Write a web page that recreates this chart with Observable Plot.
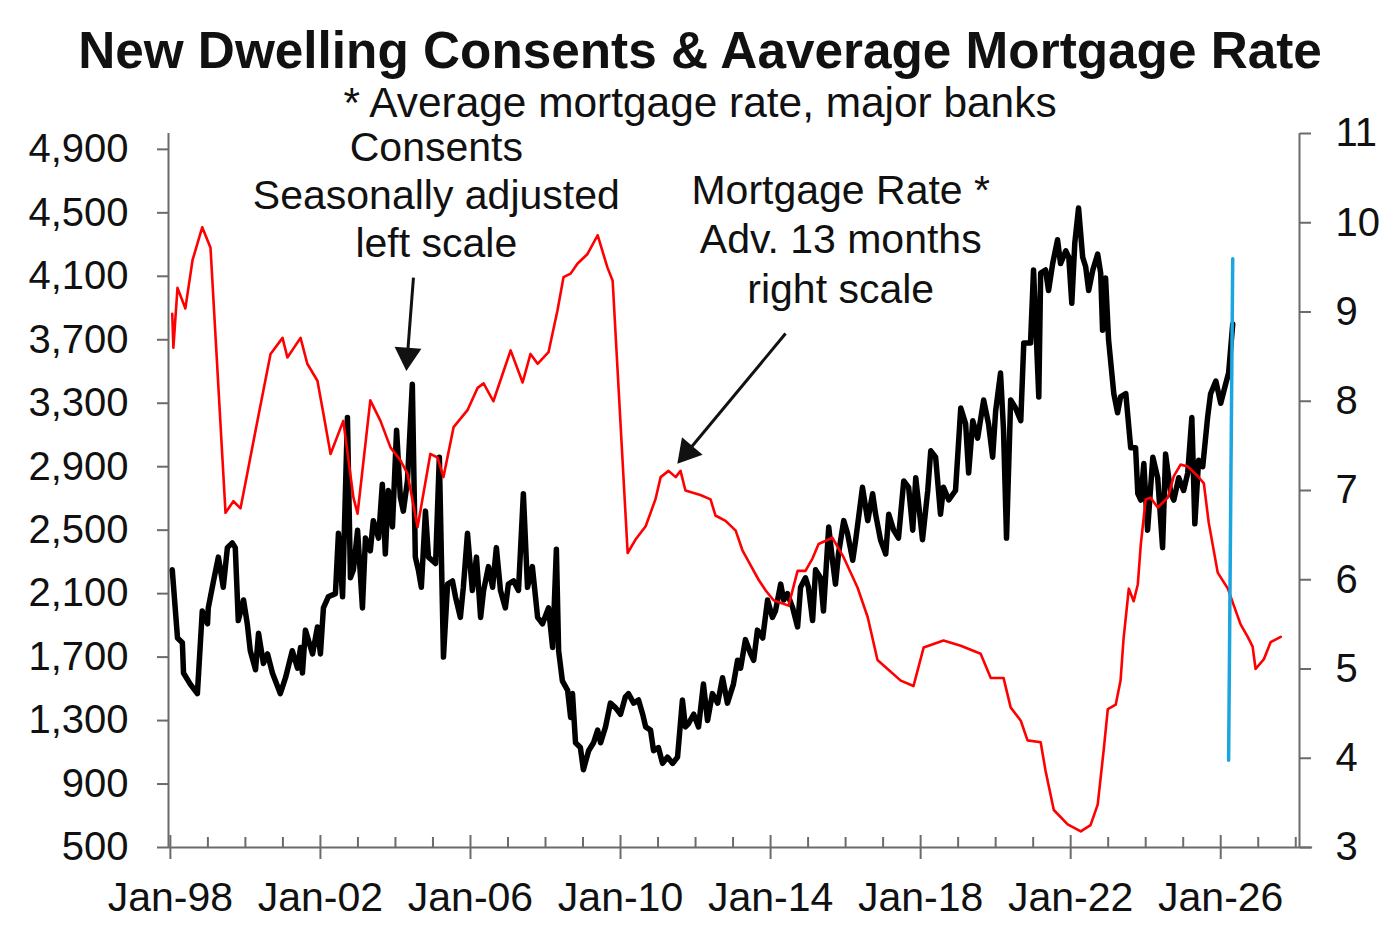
<!DOCTYPE html>
<html>
<head>
<meta charset="utf-8">
<script src="https://cdn.jsdelivr.net/npm/d3@7"></script>
<script src="https://cdn.jsdelivr.net/npm/@observablehq/plot@0.6"></script>
<style>
  body { margin: 0; background: #fff; font-family: "Liberation Sans", Arial, sans-serif; color: #111; }
  #title { font-weight: bold; font-size: 51.3px; line-height: 58px; height: 58px; padding-top: 22px; text-align: center; white-space: nowrap; }
  #subtitle { font-size: 42.4px; line-height: 30px; height: 30px; padding-top: 8px; text-align: center; white-space: nowrap; }
  #chart svg { display: block; overflow: visible; }
</style>
</head>
<body>
<div id="title">New Dwelling Consents &amp; Aaverage Mortgage Rate</div>
<div id="subtitle">* Average mortgage rate, major banks</div>
<div id="chart"></div>
<script>
// ---------------- DATA ----------------
// New dwelling consents, seasonally adjusted (left scale); x = decimal year
const consentsDate = [
  1998.05,1998.19,1998.32,1998.35,1998.53,1998.72,1998.80,1998.85,1998.99,1999.01,
  1999.15,1999.28,1999.41,1999.52,1999.65,1999.73,1999.81,1999.95,2000.05,2000.13,
  2000.27,2000.35,2000.48,2000.59,2000.72,2000.93,2001.07,2001.25,2001.39,2001.47,
  2001.52,2001.60,2001.79,2001.92,2002.00,2002.08,2002.21,2002.40,2002.48,2002.59,
  2002.72,2002.80,2002.88,2002.99,2003.12,2003.20,2003.33,2003.41,2003.55,2003.65,
  2003.73,2003.81,2003.92,2004.03,2004.13,2004.21,2004.32,2004.45,2004.53,2004.61,
  2004.69,2004.80,2004.88,2005.07,2005.17,2005.28,2005.39,2005.52,2005.60,2005.73,
  2005.81,2005.92,2006.05,2006.16,2006.27,2006.35,2006.48,2006.59,2006.69,2006.80,
  2006.93,2007.01,2007.15,2007.28,2007.41,2007.52,2007.65,2007.79,2007.92,2008.08,
  2008.19,2008.29,2008.35,2008.45,2008.59,2008.67,2008.72,2008.80,2008.93,2009.01,
  2009.15,2009.28,2009.39,2009.47,2009.60,2009.73,2009.87,2010.00,2010.13,2010.21,
  2010.35,2010.48,2010.59,2010.67,2010.80,2010.88,2011.01,2011.12,2011.25,2011.39,
  2011.52,2011.65,2011.73,2011.81,2011.95,2012.08,2012.21,2012.32,2012.45,2012.59,
  2012.72,2012.85,2013.01,2013.12,2013.20,2013.33,2013.47,2013.55,2013.65,2013.79,
  2013.92,2014.05,2014.13,2014.27,2014.35,2014.45,2014.59,2014.72,2014.80,2014.93,
  2015.01,2015.12,2015.20,2015.33,2015.41,2015.55,2015.65,2015.73,2015.81,2015.95,
  2016.05,2016.19,2016.27,2016.45,2016.59,2016.72,2016.80,2016.93,2017.07,2017.15,
  2017.28,2017.41,2017.55,2017.68,2017.79,2017.87,2018.05,2018.19,2018.27,2018.40,
  2018.53,2018.61,2018.75,2018.93,2019.07,2019.20,2019.28,2019.39,2019.52,2019.68,
  2019.81,2019.92,2020.00,2020.13,2020.21,2020.29,2020.40,2020.53,2020.67,2020.75,
  2020.93,2021.01,2021.15,2021.20,2021.33,2021.41,2021.52,2021.65,2021.73,2021.87,
  2021.95,2022.03,2022.11,2022.21,2022.32,2022.40,2022.48,2022.59,2022.72,2022.80,
  2022.85,2022.93,2023.01,2023.15,2023.25,2023.33,2023.47,2023.60,2023.73,2023.79,
  2023.87,2023.95,2024.05,2024.19,2024.32,2024.45,2024.53,2024.67,2024.75,2024.88,
  2025.01,2025.12,2025.23,2025.31,2025.41,2025.52,2025.65,2025.73,2025.87,2026.00,
  2026.13,2026.21,2026.32
];
const consentsValue = [
  2250,1820,1790,1600,1530,1470,1790,1990,1910,2010,
  2180,2330,2140,2390,2420,2390,1930,2060,1910,1740,
  1620,1850,1660,1720,1600,1470,1570,1740,1630,1760,
  1600,1870,1720,1890,1720,2010,2080,2100,2480,2080,
  3210,2200,2250,2500,2010,2450,2370,2560,2450,2790,
  2350,2750,2520,3130,2710,2620,2810,3420,2330,2250,
  2140,2620,2330,2290,2960,1700,2160,2180,2080,1950,
  2140,2480,2120,2330,1950,2120,2270,2140,2390,2120,
  2010,2160,2180,2120,2730,2140,2270,1950,1910,2010,
  1760,2380,1740,1550,1490,1320,1470,1160,1130,990,
  1110,1160,1240,1160,1260,1410,1380,1340,1450,1470,
  1410,1430,1340,1260,1240,1110,1130,1030,1070,1030,
  1070,1430,1260,1280,1340,1260,1530,1300,1470,1410,
  1570,1410,1530,1680,1630,1810,1720,1680,1870,1820,
  2060,1950,1990,2160,2060,2100,2010,1890,2140,2200,
  2140,1930,2250,2200,1990,2520,2310,2160,2350,2560,
  2480,2310,2440,2770,2560,2730,2600,2440,2350,2600,
  2500,2450,2810,2770,2500,2830,2440,2750,3000,2960,
  2600,2770,2690,2750,3270,3170,2860,3190,3080,3320,
  3170,2960,3250,3490,3130,2450,3320,3270,3190,3680,
  3680,4140,3340,4120,4140,4010,4180,4330,4180,4260,
  4220,3930,4310,4530,4220,4160,4010,4140,4240,4120,
  3760,4090,3700,3360,3240,3340,3360,3020,3020,2730,
  2690,2920,2500,2960,2830,2390,2980,2730,2690,2830,
  2750,2860,3210,2540,2940,2900,3210,3360,3440,3300,
  3420,3490,3800
];

// Average mortgage rate, major banks, advanced 13 months (right scale, %)
const rateDate = [
  1998.05,1998.08,1998.19,1998.40,1998.59,1998.85,1999.07,1999.47,1999.68,1999.87,
  2000.05,2000.32,2000.67,2000.99,2001.12,2001.47,2001.65,2001.92,2002.08,2002.27,
  2002.61,2002.88,2002.99,2003.33,2003.60,2003.87,2004.13,2004.32,2004.59,2004.93,
  2005.12,2005.28,2005.55,2005.92,2006.19,2006.35,2006.61,2007.07,2007.39,2007.60,
  2007.79,2008.08,2008.32,2008.48,2008.67,2008.85,2009.12,2009.39,2009.65,2009.79,
  2010.19,2010.40,2010.67,2010.93,2011.07,2011.28,2011.47,2011.60,2011.73,2012.13,
  2012.40,2012.53,2012.80,2013.07,2013.25,2013.47,2013.68,2013.87,2014.08,2014.48,
  2014.72,2014.93,2015.12,2015.28,2015.65,2015.95,2016.32,2016.59,2016.85,2017.12,
  2017.47,2017.81,2018.08,2018.61,2019.07,2019.60,2019.87,2020.21,2020.40,2020.67,
  2020.85,2021.20,2021.33,2021.55,2021.92,2022.27,2022.53,2022.72,2022.88,2022.99,
  2023.20,2023.33,2023.41,2023.55,2023.68,2023.79,2023.87,2024.00,2024.13,2024.32,
  2024.59,2024.75,2024.93,2025.12,2025.39,2025.55,2025.68,2025.92,2026.19,2026.35,
  2026.53,2026.72,2026.85,2026.93,2027.15,2027.33,2027.60
];
const rateValue = [
  8.98,8.60,9.27,9.04,9.58,9.95,9.72,6.75,6.88,6.80,
  7.19,7.78,8.53,8.71,8.49,8.71,8.42,8.23,7.86,7.41,
  7.78,6.92,6.74,8.01,7.78,7.48,7.34,7.19,6.59,7.41,
  7.37,7.15,7.71,7.90,8.15,8.20,8.00,8.57,8.21,8.53,
  8.42,8.55,9.02,9.39,9.43,9.54,9.65,9.86,9.50,9.35,
  6.30,6.45,6.60,6.90,7.15,7.22,7.15,7.22,7.00,6.95,
  6.90,6.72,6.66,6.55,6.33,6.16,6.00,5.88,5.77,5.71,
  6.10,6.10,6.24,6.40,6.47,6.25,5.91,5.58,5.10,5.00,
  4.87,4.81,5.24,5.32,5.26,5.17,4.90,4.90,4.57,4.42,
  4.20,4.18,3.86,3.42,3.26,3.18,3.25,3.48,4.09,4.55,
  4.60,4.87,5.34,5.90,5.76,5.95,6.40,6.90,6.92,6.81,
  6.92,7.16,7.29,7.27,7.16,7.08,6.64,6.08,5.90,5.71,
  5.50,5.36,5.25,5.00,5.11,5.30,5.36
];

// Blue vertical marker (left-scale units)
const markerDate = [2026.32, 2026.21];
const markerValue = [4210, 1050];

// Axis ticks and labels
const majorYears = [1998, 2002, 2006, 2010, 2014, 2018, 2022, 2026];
const xLabels = ["Jan-98", "Jan-02", "Jan-06", "Jan-10", "Jan-14", "Jan-18", "Jan-22", "Jan-26"];
const leftTicks = [500, 900, 1300, 1700, 2100, 2500, 2900, 3300, 3700, 4100, 4500, 4900];
const rightTicks = [3, 4, 5, 6, 7, 8, 9, 10, 11];

// Annotations (data units: decimal year, left-scale value)
const noteText = ["Consents\nSeasonally adjusted\nleft scale", "Mortgage Rate *\nAdv. 13 months\nright scale"];
const noteX = [2005.09, 2015.87];
const noteY = [5044, 4780];
const arrowFromX = [2004.48, 2014.40];
const arrowFromY = [4092, 3739];
const arrowHeadX = [2004.32, 2011.78];
const arrowHeadY = [3601, 2993];
const arrowAngle = [184, 220];

// ---------------- CHART ----------------
const xDomain = [1997.95, 2028.1];
const xAxisEnd = 2028.45;
const yDomain = [500, 5000];
const rDomain = [3, 11];
const toLeft = r => yDomain[0] + (r - rDomain[0]) * (yDomain[1] - yDomain[0]) / (rDomain[1] - rDomain[0]);
const fromLeft = v => rDomain[0] + (v - yDomain[0]) * (rDomain[1] - rDomain[0]) / (yDomain[1] - yDomain[0]);

const width = 1400, height = 809;
const marginTop = 15, marginBottom = 80, marginLeft = 168, marginRight = 101;
const u = (yDomain[1] - yDomain[0]) / (height - marginTop - marginBottom); // value units per pixel
const axisColor = "#6b6b6b";

const consents = consentsDate.map((d, i) => ({date: d, value: consentsValue[i]}));
const rates = rateDate.map((d, i) => ({date: d, value: toLeft(rateValue[i])}));
const marker = markerDate.map((d, i) => ({date: d, value: markerValue[i]}));
const notes = noteText.map((t, i) => ({text: t, x: noteX[i], y: noteY[i]}));
const arrows = arrowFromX.map((d, i) => ({x1: d, y1: arrowFromY[i], x2: arrowHeadX[i], y2: arrowHeadY[i], angle: arrowAngle[i]}));
const minorYears = d3.range(majorYears[0] + 1, 2029).filter(y => !majorYears.includes(y));

const chart = Plot.plot({
  width, height, marginTop, marginBottom, marginLeft, marginRight,
  style: {fontFamily: '"Liberation Sans", Arial, sans-serif', background: "none", overflow: "visible", color: "#111"},
  x: {type: "linear", domain: xDomain, axis: null},
  y: {type: "linear", domain: yDomain, axis: null},
  marks: [
    // axis lines
    Plot.ruleY([{y: yDomain[0], x1: xDomain[0], x2: xAxisEnd}], {y: "y", x1: "x1", x2: "x2", stroke: axisColor, strokeWidth: 2}),
    Plot.ruleX([xDomain[0]], {stroke: axisColor, strokeWidth: 2}),
    Plot.ruleX([xDomain[1]], {stroke: axisColor, strokeWidth: 2}),
    // x ticks: minor (inside) and major (crossing)
    Plot.ruleX(minorYears, {x: d => d, y1: () => yDomain[0], y2: () => yDomain[0] + 10 * u, stroke: axisColor, strokeWidth: 2}),
    Plot.ruleX(majorYears, {x: d => d, y1: () => yDomain[0] - 12 * u, y2: () => yDomain[0] + 12 * u, stroke: axisColor, strokeWidth: 2}),
    Plot.axisX(majorYears, {anchor: "bottom", tickSize: 0, tickPadding: 34, fontSize: 41, fill: "#111",
      tickFormat: d => xLabels[majorYears.indexOf(d)], label: null}),
    // left axis
    Plot.axisY(leftTicks, {anchor: "left", tickSize: 11, tickPadding: 29, fontSize: 40, stroke: axisColor, strokeWidth: 2, fill: "#111",
      tickFormat: d3.format(","), label: null}),
    // right axis (mortgage rate)
    Plot.axisY(rightTicks.map(toLeft), {anchor: "right", tickSize: 11, tickPadding: 25, fontSize: 40, stroke: axisColor, strokeWidth: 2, fill: "#111",
      tickFormat: v => String(Math.round(fromLeft(v))), label: null}),
    // series
    Plot.line(consents, {x: "date", y: "value", stroke: "#000", strokeWidth: 5.5, strokeLinejoin: "round", strokeLinecap: "round"}),
    Plot.line(rates, {x: "date", y: "value", stroke: "#ff0000", strokeWidth: 2.6, strokeLinejoin: "round"}),
    Plot.line(marker, {x: "date", y: "value", stroke: "#1ca6e0", strokeWidth: 3.5}),
    // annotations
    Plot.link(arrows, {x1: "x1", y1: "y1", x2: "x2", y2: "y2", stroke: "#111", strokeWidth: 3}),
    Plot.dot(arrows, {x: "x2", y: "y2", symbol: "triangle", r: 10, fill: "#111", stroke: "none", rotate: "angle"}),
    Plot.text([notes[0]], {x: "x", y: "y", text: "text", lineAnchor: "top", lineHeight: 1.17, fontSize: 41, fill: "#111"}),
    Plot.text([notes[1]], {x: "x", y: "y", text: "text", lineAnchor: "top", lineHeight: 1.21, fontSize: 41, fill: "#111"})
  ]
});
document.getElementById("chart").appendChild(chart);
</script>
</body>
</html>
